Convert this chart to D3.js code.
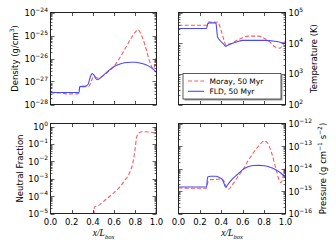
<!DOCTYPE html>
<html>
<meta charset="utf-8">
<title>Moray vs FLD profiles</title>
<style>
body { margin: 0; background: #fff; }
text { font-family: "DejaVu Sans", sans-serif; fill: #000; }
.tick { font-size: 8.5px; }
.lab { font-size: 8.5px; }
.leg { font-size: 7.5px; }
.xl { font-family: "Liberation Serif", serif; font-style: italic; font-size: 9.5px; }
</style>
<body>
<div id="chart"></div>
<script src="https://cdnjs.cloudflare.com/ajax/libs/d3/7.8.5/d3.min.js"></script>
<script>
// data (x in units of L_box)
var densX_fld = [0, 0.27, 0.275, 0.33, 0.355, 0.375, 0.395, 0.41, 0.425, 0.44, 0.5, 0.55, 0.6, 0.65, 0.7, 0.75, 0.8, 0.85, 0.9, 0.95, 1.0];
var densY_fld = [3.3e-28, 3.3e-28, 6.0e-28, 6.3e-28, 7.6e-28, 1.58e-27, 2.2e-27, 1.9e-27, 1.41e-27, 1.2e-27, 1.9e-27, 3.0e-27, 4.5e-27, 5.6e-27, 6.5e-27, 6.9e-27, 6.9e-27, 6.3e-27, 5.4e-27, 4.0e-27, 2.5e-27];
var densX_moray = [0, 0.1, 0.15, 0.25, 0.27, 0.275, 0.3, 0.36, 0.38, 0.4, 0.42, 0.44, 0.5, 0.55, 0.6, 0.65, 0.7, 0.75, 0.8, 0.825, 0.85, 0.9, 0.94, 0.97, 1.0];
var densY_moray = [3.2e-28, 3.2e-28, 2.9e-28, 2.9e-28, 3.2e-28, 5.5e-28, 5.8e-28, 6.0e-28, 8.9e-28, 1.5e-27, 1.6e-27, 1.4e-27, 1.8e-27, 2.8e-27, 4.7e-27, 1.0e-26, 2.5e-26, 6.3e-26, 1.4e-25, 1.8e-25, 1.26e-25, 2.8e-26, 6.3e-27, 3.5e-27, 1.9e-26];

var tempX_fld = [0, 0.262, 0.275, 0.29, 0.34, 0.35, 0.365, 0.39, 0.42, 0.44, 0.46, 0.5, 0.55, 0.6, 0.7, 0.8, 0.9, 1.0];
var tempY_fld = [3.0e4, 3.0e4, 4.4e4, 4.6e4, 4.6e4, 4.4e4, 1.6e4, 1.2e4, 9.5e3, 7.9e3, 8.5e3, 9.8e3, 1.12e4, 1.23e4, 1.23e4, 1.23e4, 1.15e4, 9.7e3];
var tempX_moray = [0, 0.262, 0.28, 0.37, 0.38, 0.4, 0.425, 0.445, 0.47, 0.5, 0.55, 0.6, 0.65, 0.75, 0.8, 0.85, 0.9, 0.95, 0.97, 1.0];
var tempY_moray = [3.85e4, 3.85e4, 4.9e4, 4.8e4, 4.0e4, 2.5e4, 1.26e4, 8.5e3, 9.3e3, 1.0e4, 1.26e4, 1.5e4, 1.7e4, 1.7e4, 1.45e4, 1.12e4, 7.6e3, 6.9e3, 8.3e3, 1.2e4];

var nfX_fld = [0.99, 1.0];
var nfY_fld = [5e-6, 2.5e-5];
var nfX_moray = [0.41, 0.415, 0.45, 0.5, 0.55, 0.6, 0.65, 0.7, 0.75, 0.78, 0.8, 0.81, 0.83, 0.86, 0.9, 0.95, 1.0];
var nfY_moray = [8e-6, 2.4e-5, 2.8e-5, 5e-5, 8.9e-5, 1.6e-4, 3.2e-4, 7.9e-4, 2.5e-3, 1e-2, 6.3e-2, 0.2, 0.4, 0.5, 0.5, 0.47, 0.4];

var presX_fld = [0, 0.262, 0.272, 0.3, 0.35, 0.38, 0.41, 0.425, 0.44, 0.47, 0.5, 0.55, 0.6, 0.65, 0.7, 0.75, 0.8, 0.85, 0.9, 0.95, 1.0];
var presY_fld = [1.5e-15, 1.5e-15, 4.2e-15, 4.5e-15, 4.5e-15, 4.0e-15, 3.2e-15, 2.2e-15, 1.5e-15, 2.2e-15, 3.3e-15, 5.4e-15, 8.9e-15, 1.2e-14, 1.35e-14, 1.38e-14, 1.32e-14, 1.17e-14, 9.3e-15, 6.6e-15, 4.0e-15];
var presX_moray = [0, 0.15, 0.26, 0.275, 0.3, 0.36, 0.4, 0.43, 0.45, 0.47, 0.5, 0.55, 0.6, 0.65, 0.7, 0.75, 0.8, 0.83, 0.87, 0.91, 0.95, 0.96, 0.98, 1.0];
var presY_moray = [1.38e-15, 1.32e-15, 1.32e-15, 2.5e-15, 3.2e-15, 3.3e-15, 3.5e-15, 2.5e-15, 1.3e-15, 1.2e-15, 1.8e-15, 4.0e-15, 8.5e-15, 2.2e-14, 5.0e-14, 1.0e-13, 1.66e-13, 1.4e-13, 5.0e-14, 1.0e-14, 2.5e-15, 2.4e-15, 5.0e-15, 1.26e-14];

var xTicks = [0, 0.2, 0.4, 0.6, 0.8, 1.0];
var legendNames = ["Moray, 50 Myr", "FLD, 50 Myr"];

var W = 336, H = 252;
var svg = d3.select("#chart").append("svg").attr("width", W).attr("height", H);

var panels = [
  {x0: 50.5, x1: 156.5, y0: 12.5, y1: 104.5, dom: [1e-28, 1e-24], side: "left", xlab: false,
   label: ["Density (g/cm", "3", ")"], lx: 17.5, fld: [densX_fld, densY_fld], moray: [densX_moray, densY_moray]},
  {x0: 178.5, x1: 285.5, y0: 12.5, y1: 104.5, dom: [1e2, 1e5], side: "right", xlab: false,
   label: ["Temperature (K)"], lx: 317, fld: [tempX_fld, tempY_fld], moray: [tempX_moray, tempY_moray], legend: true},
  {x0: 50.5, x1: 156.5, y0: 123.5, y1: 213.5, dom: [1e-5, 1.5], side: "left", xlab: true,
   label: ["Neutral Fraction"], lx: 23, fld: [nfX_fld, nfY_fld], moray: [nfX_moray, nfY_moray]},
  {x0: 178.5, x1: 285.5, y0: 123.5, y1: 213.5, dom: [1e-16, 1e-12], side: "right", xlab: true,
   label: ["Pressure (g cm", "\u22121", " s", "\u22122", ")"], lx: 325.5, fld: [presX_fld, presY_fld], moray: [presX_moray, presY_moray]}
];

panels.forEach(function(p, i) {
  var x = d3.scaleLinear().domain([0, 1]).range([p.x0, p.x1]);
  var y = d3.scaleLog().domain(p.dom).range([p.y1, p.y0]);
  var g = svg.append("g");

  g.append("clipPath").attr("id", "clip" + i)
    .append("rect").attr("x", p.x0).attr("y", p.y0).attr("width", p.x1 - p.x0).attr("height", p.y1 - p.y0);

  var line = d3.line().x(function(d) { return x(d[0]); }).y(function(d) { return y(d[1]); })
    .curve(d3.curveMonotoneX);

  var series = [
    {d: d3.zip(p.moray[0], p.moray[1]), color: "#ff5a5a", dash: "4,2.2"},
    {d: d3.zip(p.fld[0], p.fld[1]), color: "#4848ff", dash: null}
  ];
  series.forEach(function(s) {
    g.append("path").attr("clip-path", "url(#clip" + i + ")")
      .attr("d", line(s.d)).attr("fill", "none")
      .attr("stroke", s.color).attr("stroke-width", 1.1)
      .attr("stroke-dasharray", s.dash);
  });

  // x ticks inward top and bottom
  xTicks.slice(1, -1).forEach(function(t) {
    var px = Math.round(x(t)) + 0.5;
    g.append("line").attr("x1", px).attr("x2", px).attr("y1", p.y1).attr("y2", p.y1 - 3.5).attr("stroke", "#222").attr("stroke-width", 0.8);
    g.append("line").attr("x1", px).attr("x2", px).attr("y1", p.y0).attr("y2", p.y0 + 3.5).attr("stroke", "#222").attr("stroke-width", 0.8);
  });
  if (p.xlab) {
    xTicks.forEach(function(t) {
      g.append("text").attr("class", "tick").attr("x", x(t)).attr("y", p.y1 + 11)
        .attr("text-anchor", "middle").text(t.toFixed(1));
    });
    var xl = g.append("text").attr("class", "xl").attr("x", (p.x0 + p.x1) / 2).attr("y", p.y1 + 22.5)
      .attr("text-anchor", "middle");
    xl.append("tspan").text("x/L");
    xl.append("tspan").attr("dy", 2.5).attr("font-size", "6.5px").text("box");
  }

  // log y ticks, major and minor, inward on both sides
  var lo = Math.round(Math.log10(p.dom[0])), hi = Math.ceil(Math.log10(p.dom[1]));
  for (var e = lo; e <= hi; e++) {
    for (var m = 1; m < 10; m++) {
      var v = m * Math.pow(10, e);
      if (v < p.dom[0] * 0.999 || v > p.dom[1] * 1.001) continue;
      var py = Math.round(y(v)) + 0.5;
      var len = m === 1 ? 4 : 2;
      g.append("line").attr("x1", p.x0).attr("x2", p.x0 + len).attr("y1", py).attr("y2", py).attr("stroke", "#222").attr("stroke-width", 0.7);
      g.append("line").attr("x1", p.x1).attr("x2", p.x1 - len).attr("y1", py).attr("y2", py).attr("stroke", "#222").attr("stroke-width", 0.7);
      if (m === 1) {
        var tx = g.append("text").attr("class", "tick").attr("y", y(v) + 3.5);
        if (p.side === "left") tx.attr("x", p.x0 - 2.5).attr("text-anchor", "end");
        else tx.attr("x", p.x1 + 3).attr("text-anchor", "start");
        tx.append("tspan").text("10");
        tx.append("tspan").attr("dy", -4.5).attr("font-size", "6px").text(e < 0 ? "\u2212" + (-e) : e);
      }
    }
  }

  // frame
  g.append("rect").attr("x", p.x0).attr("y", p.y0).attr("width", p.x1 - p.x0).attr("height", p.y1 - p.y0)
    .attr("fill", "none").attr("stroke", "#222").attr("stroke-width", 1);

  // y label, rotated
  var cy = (p.y0 + p.y1) / 2;
  var lab = g.append("text").attr("class", "lab").attr("text-anchor", "middle")
    .attr("transform", "translate(" + p.lx + "," + cy + ") rotate(-90)");
  p.label.forEach(function(s, k) {
    var ts = lab.append("tspan").text(s);
    if (k % 2 === 1) ts.attr("dy", -4).attr("font-size", "6px");
    else if (k > 0) ts.attr("dy", 4);
  });

  if (p.legend) {
    var lg = g.append("g");
    var bx = 183, by = 73.5, bw = 98, bh = 25.5;
    lg.append("rect").attr("x", bx + 1.5).attr("y", by + 1.5).attr("width", bw).attr("height", bh).attr("fill", "#999");
    lg.append("rect").attr("x", bx).attr("y", by).attr("width", bw).attr("height", bh).attr("fill", "#fff").attr("stroke", "#333").attr("stroke-width", 0.8);
    series.forEach(function(s, k) {
      var ly = by + 7.5 + k * 10.3;
      lg.append("line").attr("x1", bx + 5).attr("x2", bx + 21).attr("y1", ly).attr("y2", ly)
        .attr("stroke", s.color).attr("stroke-width", 1.1).attr("stroke-dasharray", s.dash);
      lg.append("text").attr("class", "leg").attr("x", bx + 26.5).attr("y", ly + 2.7).text(legendNames[k]);
    });
  }
});
</script>
</body>
</html>
